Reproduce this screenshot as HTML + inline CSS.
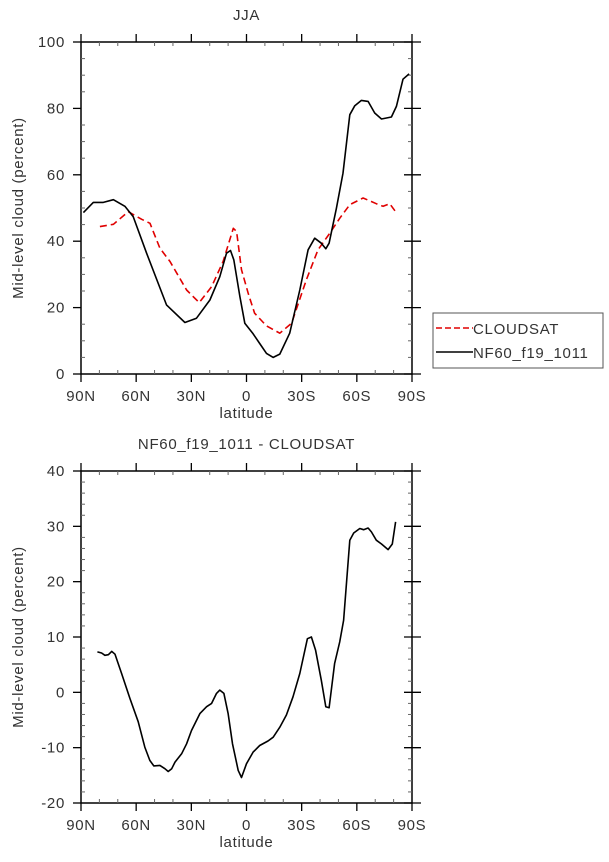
<!DOCTYPE html>
<html><head><meta charset="utf-8"><style>
html,body{margin:0;padding:0;background:#fff;}
svg{display:block;font-family:"Liberation Sans",sans-serif;}
text{fill:#333;letter-spacing:0.7px;}
</style></head><body>
<svg id="c" width="609" height="862"></svg>
<script>
const topLat=[88.7,83.3,77.9,72.4,66.1,61.6,54.3,43.5,33.5,27.2,19.9,14.5,10.9,8.7,6.9,3.6,0.9,-3.6,-7.2,-10.9,-14.5,-18.1,-23.5,-29.0,-33.5,-37.1,-40.7,-43.1,-44.9,-48.9,-52.5,-56.2,-58.9,-62.5,-66.1,-69.7,-73.4,-78.8,-81.5,-85.1,-88.4];
const modelVals=[48.6,51.7,51.7,52.5,50.5,47.4,36.4,20.8,15.5,16.8,22.3,29.3,36.4,37.2,34.4,23.3,15.3,12.1,9.2,6.2,5.0,6.0,12.3,25.3,37.4,40.9,39.4,37.7,39.4,49.9,60.5,78.1,80.8,82.4,82.1,78.6,76.8,77.4,80.6,88.8,90.4];
const obsLat=[79.7,72.4,64.3,57.0,52.5,47.1,41.6,32.6,25.7,19.0,12.7,7.2,5.4,2.7,-0.9,-4.4,-10.9,-18.1,-24.5,-32.6,-38.9,-45.3,-50.7,-56.2,-63.4,-70.6,-74.3,-77.9,-81.1];
const obsVals=[44.4,45.1,48.9,46.6,45.4,37.9,33.9,25.3,21.5,26.3,33.9,43.9,42.9,31.4,24.3,18.3,14.5,12.3,15.3,28.4,37.4,42.4,46.9,51.0,53.0,51.3,50.5,51.3,48.9];
const diffLat=[81.1,78.8,77.0,75.1,73.3,71.5,67.9,63.4,58.9,55.3,52.6,50.4,47.1,44.4,42.6,40.7,38.9,35.3,32.6,29.9,25.3,21.7,19.0,16.3,14.5,12.3,10.0,7.6,4.5,2.7,0.0,-3.6,-7.2,-11.7,-14.5,-18.1,-21.7,-25.3,-29.0,-33.1,-35.3,-37.6,-40.7,-43.1,-44.9,-47.9,-50.7,-52.8,-56.2,-58.3,-61.6,-63.7,-66.1,-67.9,-70.6,-73.4,-77.0,-79.3,-81.1];
const diffVals=[7.3,7.1,6.7,6.8,7.4,6.9,3.4,-1.1,-5.3,-9.9,-12.3,-13.3,-13.2,-13.8,-14.3,-13.8,-12.6,-11.1,-9.3,-6.9,-3.8,-2.6,-2.0,-0.2,0.4,-0.2,-3.8,-9.3,-14.1,-15.4,-12.9,-10.8,-9.6,-8.8,-8.1,-6.3,-4.1,-0.8,3.4,9.7,10.0,7.6,2.2,-2.6,-2.8,5.2,9.1,13.0,27.5,28.8,29.6,29.4,29.7,29.0,27.5,26.8,25.8,26.8,30.8];
const xTicks=[90,60,30,0,-30,-60,-90];
const xTickLabels=["90N","60N","30N","0","30S","60S","90S"];
const topYTicks=[0,20,40,60,80,100];
const botYTicks=[-20,-10,0,10,20,30,40];

const svg=document.getElementById('c');
const NS='http://www.w3.org/2000/svg';
function mk(tag,attrs,parent){const e=document.createElementNS(NS,tag);for(const k in attrs)e.setAttribute(k,attrs[k]);(parent||svg).appendChild(e);return e;}
const L=81,R=412;
function xs(lat){return L+(90-lat)/180*(R-L);}

function panel(name,top,bot,ymin,ymax,yTicks,minorStep,title){
  const g=mk('g',{});
  
  
  const ys=v=>bot-(v-ymin)/(ymax-ymin)*(bot-top);
  const frame=mk('rect',{x:L,y:top,width:R-L,height:bot-top,fill:'none',stroke:'#000','stroke-width':1.5},g);
  
  
  for(let lat=90;lat>=-90;lat-=10){
    const x=xs(lat);
    if(lat%30===0){
      mk('line',{x1:x,y1:bot,x2:x,y2:bot+8,stroke:'#000','stroke-width':1.3},g);
      mk('line',{x1:x,y1:top,x2:x,y2:top-8,stroke:'#000','stroke-width':1.3},g);
    }else{
      mk('line',{x1:x,y1:bot,x2:x,y2:bot-4,stroke:'#666','stroke-width':1},g);
      mk('line',{x1:x,y1:top,x2:x,y2:top+4,stroke:'#666','stroke-width':1},g);
    }
  }
  for(let v=ymin;v<=ymax+1e-6;v+=minorStep){
    const y=ys(v);
    if(yTicks.indexOf(Math.round(v))<0){
      mk('line',{x1:L,y1:y,x2:L+4,y2:y,stroke:'#666','stroke-width':1},g);
      mk('line',{x1:R,y1:y,x2:R-4,y2:y,stroke:'#666','stroke-width':1},g);
    }
  }
  yTicks.forEach(v=>{
    const y=ys(v);
    mk('line',{x1:L-8,y1:y,x2:L,y2:y,stroke:'#000','stroke-width':1.3},g);
    mk('line',{x1:R-8,y1:y,x2:R+9,y2:y,stroke:'#000','stroke-width':1.3},g);
    const t=mk('text',{x:L-16,y:y+5,'text-anchor':'end','font-size':15},g);
    t.textContent=v;
    
    
  });
  xTicks.forEach((lat,i)=>{
    const t=mk('text',{x:xs(lat),y:bot+27,'text-anchor':'middle','font-size':15},g);
    t.textContent=xTickLabels[i];
    
    
  });
  const xl=mk('text',{x:(L+R)/2,y:bot+44,'text-anchor':'middle','font-size':15},g);
  xl.textContent='latitude';
  
  
  const yl=mk('text',{x:0,y:0,'text-anchor':'middle','font-size':15,transform:`translate(23,${(top+bot)/2}) rotate(-90)`},g);
  yl.textContent='Mid-level cloud (percent)';
  
  
  const tt=mk('text',{x:(L+R)/2,y:top-22,'text-anchor':'middle','font-size':15},g);
  tt.textContent=title;
  
  
  return {g,ys};
}
function line(g,lats,vals,ys,color,dash,name){
  const d=lats.map((la,i)=>(i?'L':'M')+xs(la).toFixed(1)+' '+ys(vals[i]).toFixed(1)).join(' ');
  const p=mk('path',{d:d,fill:'none',stroke:color,'stroke-width':1.6,'stroke-dasharray':dash||'none','stroke-linejoin':'round'},g);
  
  
}
const p1=panel('top-panel',42,374,0,100,topYTicks,5,'JJA');
line(p1.g,obsLat,obsVals,p1.ys,'#e00000','7 4','cloudsat-line');
line(p1.g,topLat,modelVals,p1.ys,'#000',null,'model-line');
const p2=panel('bottom-panel',471,803,-20,40,botYTicks,2,'NF60_f19_1011 - CLOUDSAT');
line(p2.g,diffLat,diffVals,p2.ys,'#000',null,'difference-line');

const lg=mk('g',{});


mk('rect',{x:433,y:313,width:170,height:55,fill:'#fff',stroke:'#555','stroke-width':1},lg);
mk('line',{x1:436,y1:328,x2:473,y2:328,stroke:'#e00000','stroke-width':1.6,'stroke-dasharray':'6 3'},lg);
mk('line',{x1:436,y1:352,x2:473,y2:352,stroke:'#000','stroke-width':1.6},lg);
const t1=mk('text',{x:473,y:334,'font-size':15},lg);t1.textContent='CLOUDSAT';


const t2=mk('text',{x:473,y:358,'font-size':15},lg);t2.textContent='NF60_f19_1011';


</script>
</body></html>
